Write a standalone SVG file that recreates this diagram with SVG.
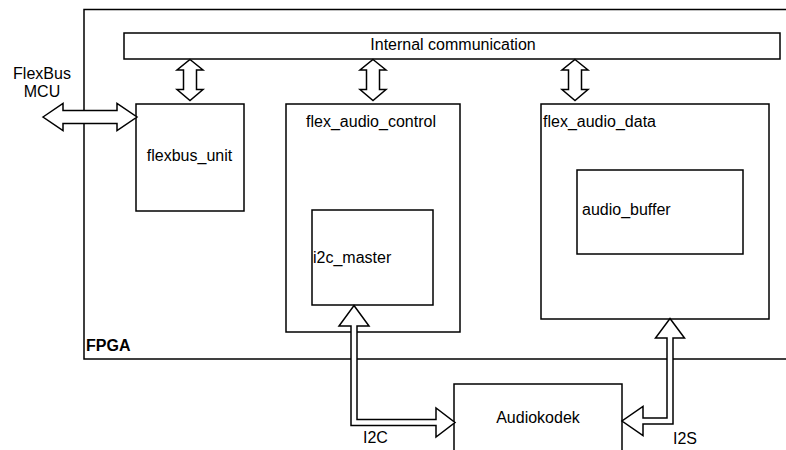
<svg xmlns="http://www.w3.org/2000/svg" width="786" height="450" viewBox="0 0 786 450">
  <style>
    .box { fill: #ffffff; stroke: #000000; stroke-width: 1.5; }
    .arrow { fill: #ffffff; stroke: #000000; stroke-width: 1.5; stroke-linejoin: miter; }
    text { font-family: "Liberation Sans", Arial, Helvetica, sans-serif; font-size: 16px; fill: #000000; }
    .c { text-anchor: middle; }
    .b { font-weight: bold; }
  </style>
  <rect width="786" height="450" fill="#ffffff"/>

  <g id="fpga">
    <rect class="box" x="84" y="9.5" width="760" height="349.5"/>
    <text class="b" x="86" y="351">FPGA</text>
  </g>

  <g id="internal-communication">
    <rect class="box" x="124" y="33" width="656" height="26"/>
    <text class="c" x="453" y="50">Internal communication</text>
  </g>

  <g id="flexbus-mcu">
    <text class="c" x="42" y="79">FlexBus</text>
    <text class="c" x="42" y="97">MCU</text>
  </g>

  <g id="flexbus_unit">
    <rect class="box" x="136" y="104" width="108" height="107"/>
    <text class="c" x="189.5" y="161">flexbus_unit</text>
  </g>

  <g id="flex_audio_control">
    <rect class="box" x="286" y="104" width="174" height="228"/>
    <text class="c" x="371" y="127">flex_audio_control</text>
  </g>

  <g id="i2c_master">
    <rect class="box" x="312" y="210" width="121" height="95"/>
    <text x="313" y="263">i2c_master</text>
  </g>

  <g id="flex_audio_data">
    <rect class="box" x="541" y="104" width="228" height="215"/>
    <text x="543" y="127">flex_audio_data</text>
  </g>

  <g id="audio_buffer">
    <rect class="box" x="577" y="170" width="166" height="84"/>
    <text x="582" y="214.5">audio_buffer</text>
  </g>

  <g id="audiokodek">
    <rect class="box" x="454" y="384" width="168" height="80"/>
    <text class="c" x="538" y="423">Audiokodek</text>
  </g>

  <g id="connectors">
    <polygon class="arrow" points="190,59.5 203,70 196.5,70 196.5,89.5 203,89.5 190,100.5 177,89.5 183.5,89.5 183.5,70 177,70"/>
    <polygon class="arrow" points="373,59.5 386,70 379.5,70 379.5,89.5 386,89.5 373,100.5 360,89.5 366.5,89.5 366.5,70 360,70"/>
    <polygon class="arrow" points="575,59.5 588,70 581.5,70 581.5,89.5 588,89.5 575,100.5 562,89.5 568.5,89.5 568.5,70 562,70"/>
    <polygon class="arrow" points="43,117 63,103.5 63,110.5 117,110.5 117,103.5 137,117 117,130.5 117,123.5 63,123.5 63,130.5"/>
    <polygon class="arrow" points="354,305.5 369,326 357,326 357,419.5 436,419.5 436,408 455,422.5 436,437 436,425.5 351,425.5 351,326 339,326"/>
    <polygon class="arrow" points="670,318.5 684.5,338 673,338 673,424 643,424 643,435.5 622,421 643,406.5 643,418 667,418 667,338 655.5,338"/>
    <text x="363" y="443">I2C</text>
    <text x="673" y="444">I2S</text>
  </g>
</svg>
